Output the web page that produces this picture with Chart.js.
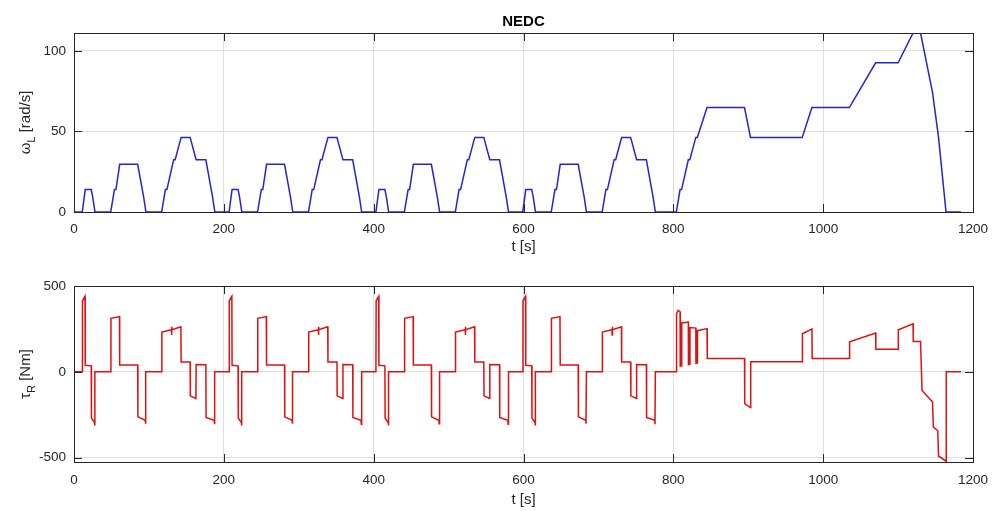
<!DOCTYPE html>
<html lang="en">
<head>
    <meta charset="UTF-8">
    <title>NEDC</title>
    <script src="https://cdn.jsdelivr.net/npm/chart.js"></script>
    <style>
        body { margin: 0; background: #fff; }
        .box { position: absolute; left: 0; width: 994px; }
    </style>
</head>
<body>
    <div class="box" style="top:0; height:258px;"><canvas id="speedChart" width="994" height="258"></canvas></div>
    <div class="box" style="top:258px; height:253px;"><canvas id="torqueChart" width="994" height="253"></canvas></div>

<script>
    // wheel speed omega_L [rad/s] vs time [s] (4 x ECE-15 + EUDC)
    const speedTime = [
        0, 11, 15, 23, 25, 28, 49, 54, 56, 61, 85, 93, 96, 117, 122, 124, 133, 135, 143, 155, 163, 176, 185, 188,
        196, 207, 211, 219, 221, 224, 245, 250, 252, 257, 281, 289, 292, 313, 318, 320, 329, 331, 339, 351, 359, 372, 381, 384,
        392, 403, 407, 415, 417, 420, 441, 446, 448, 453, 477, 485, 488, 509, 514, 516, 525, 527, 535, 547, 555, 568, 577, 580,
        588, 599, 603, 611, 613, 616, 637, 642, 644, 649, 673, 681, 684, 705, 710, 712, 721, 723, 731, 743, 751, 764, 773, 776,
        804, 809, 811, 820, 822, 830, 832, 845, 895, 903, 972, 985, 1035, 1070, 1100, 1120, 1130, 1146, 1154, 1164, 1184
    ];
    const speedVal = [
        0, 0, 13.9, 13.9, 9.3, 0, 0, 13.9, 13.9, 29.6, 29.6, 9.3, 0, 0, 13.9, 13.9, 32.4, 32.4, 46.3, 46.3, 32.4, 32.4, 9.3, 0,
        0, 0, 13.9, 13.9, 9.3, 0, 0, 13.9, 13.9, 29.6, 29.6, 9.3, 0, 0, 13.9, 13.9, 32.4, 32.4, 46.3, 46.3, 32.4, 32.4, 9.3, 0,
        0, 0, 13.9, 13.9, 9.3, 0, 0, 13.9, 13.9, 29.6, 29.6, 9.3, 0, 0, 13.9, 13.9, 32.4, 32.4, 46.3, 46.3, 32.4, 32.4, 9.3, 0,
        0, 0, 13.9, 13.9, 9.3, 0, 0, 13.9, 13.9, 29.6, 29.6, 9.3, 0, 0, 13.9, 13.9, 32.4, 32.4, 46.3, 46.3, 32.4, 32.4, 9.3, 0,
        0, 13.9, 13.9, 32.4, 32.4, 46.3, 46.3, 64.8, 64.8, 46.3, 46.3, 64.8, 64.8, 92.6, 92.6, 111.1, 111.1, 74.1, 46.3, 0, 0
    ];

    // wheel torque tau_R [Nm] vs time [s]
    const torqueTime = [
        0, 11, 11.3, 14.7, 15, 23, 23.3, 27.4, 27.7, 28, 49, 49.3, 60.7, 61, 85, 85.3, 95, 95.4, 96,
        117, 117.3, 130, 130.3, 130.6, 131, 142.7, 143, 155, 155.3, 162.7, 163, 176, 176.3, 187, 187.5, 188,
        196, 207, 207.3, 210.7, 211, 219, 219.3, 223.4, 223.7, 224, 245, 245.3, 256.7, 257, 281, 281.3, 291, 291.4, 292,
        313, 313.3, 326, 326.3, 326.6, 327, 338.7, 339, 351, 351.3, 358.7, 359, 372, 372.3, 383, 383.5, 384,
        392, 403, 403.3, 406.7, 407, 415, 415.3, 419.4, 419.7, 420, 441, 441.3, 452.7, 453, 477, 477.3, 487, 487.4, 488,
        509, 509.3, 522, 522.3, 522.6, 523, 534.7, 535, 547, 547.3, 554.7, 555, 568, 568.3, 579, 579.5, 580,
        588, 599, 599.3, 602.7, 603, 611, 611.3, 615.4, 615.7, 616, 637, 637.3, 648.7, 649, 673, 673.3, 683, 683.4, 684,
        705, 705.3, 718, 718.3, 718.6, 719, 730.7, 731, 743, 743.3, 750.7, 751, 764, 764.3, 775, 775.5, 776,
        804, 804.3, 806.5, 809, 809.2, 811, 811.2, 820, 820.2, 822, 822.2, 830, 830.2, 832, 832.2, 845, 845.3,
        895, 895.3, 903, 903.3, 972, 972.3, 985, 985.3, 1035, 1035.3, 1070, 1070.3, 1100, 1100.3, 1120, 1120.3, 1130,
        1132, 1146, 1147, 1153, 1154, 1164, 1164.3, 1184
    ];
    const torqueVal = [
        0, 0, 415, 440, 38, 35, -270, -295, -312, 0, 0, 312, 322, 40, 40, -262, -282, -302, 0,
        0, 232, 245, 215, 262, 245, 262, 58, 58, -140, -155, 43, 42, -265, -282, -305, 0,
        0, 0, 415, 440, 38, 35, -270, -295, -312, 0, 0, 312, 322, 40, 40, -262, -282, -302, 0,
        0, 232, 245, 215, 262, 245, 262, 58, 58, -140, -155, 43, 42, -265, -282, -305, 0,
        0, 0, 415, 440, 38, 35, -270, -295, -312, 0, 0, 312, 322, 40, 40, -262, -282, -302, 0,
        0, 232, 245, 215, 262, 245, 262, 58, 58, -140, -155, 43, 42, -265, -282, -305, 0,
        0, 0, 415, 440, 38, 35, -270, -295, -312, 0, 0, 312, 322, 40, 40, -262, -282, -302, 0,
        0, 232, 245, 215, 262, 245, 262, 58, 58, -140, -155, 43, 42, -265, -282, -305, 0,
        0, 340, 358, 350, 33, 35, 285, 290, 42, 45, 258, 255, 50, 52, 240, 252, 78,
        78, -185, -208, 59, 59, 222, 250, 78, 78, 175, 226, 131, 131, 245, 280, 177, 177,
        -108, -176, -320, -343, -490, -520, 0, 0
    ];

    // tick labels
    const timeTicks = [0, 200, 400, 600, 800, 1000, 1200];
    const speedTicks = [0, 50, 100];
    const torqueTicks = [-500, 0, 500];

    const FONT = "'Liberation Sans', Arial, sans-serif";
    const TXT = '#262626';

    function toPoints(xs, ys) {
        return xs.map((x, i) => ({ x: x, y: ys[i] }));
    }

    // full box with inward tick marks on all 4 sides (matlab style)
    const boxPlugin = {
        id: 'boxPlugin',
        afterDraw(chart) {
            const { ctx, chartArea: a, scales } = chart;
            ctx.save();
            ctx.strokeStyle = TXT;
            ctx.lineWidth = 1;
            ctx.strokeRect(Math.round(a.left) + 0.5, Math.round(a.top) + 0.5,
                Math.round(a.right - a.left), Math.round(a.bottom - a.top));
            const len = 8;
            ctx.beginPath();
            scales.x.ticks.forEach(t => {
                const px = Math.round(scales.x.getPixelForValue(t.value)) + 0.5;
                ctx.moveTo(px, a.top); ctx.lineTo(px, a.top + len);
                ctx.moveTo(px, a.bottom); ctx.lineTo(px, a.bottom - len);
            });
            scales.y.ticks.forEach(t => {
                const py = Math.round(scales.y.getPixelForValue(t.value)) + 0.5;
                ctx.moveTo(a.left, py); ctx.lineTo(a.left + len, py);
                ctx.moveTo(a.right, py); ctx.lineTo(a.right - len, py);
            });
            ctx.stroke();
            ctx.restore();
        }
    };

    // rotated y title with a subscript
    function yTitlePlugin(main, sub, unit) {
        return {
            id: 'yTitle',
            afterDraw(chart) {
                const { ctx, chartArea: a } = chart;
                ctx.save();
                ctx.translate(26, (a.top + a.bottom) / 2);
                ctx.rotate(-Math.PI / 2);
                ctx.fillStyle = TXT;
                ctx.textBaseline = 'middle';
                ctx.textAlign = 'left';
                const big = '15px ' + FONT, small = '11px ' + FONT;
                ctx.font = big;
                const w1 = ctx.measureText(main).width;
                const w3 = ctx.measureText(' ' + unit).width;
                ctx.font = small;
                const w2 = ctx.measureText(sub).width;
                let x = -(w1 + w2 + w3) / 2;
                ctx.font = big;
                ctx.fillText(main, x, 0);
                ctx.font = small;
                ctx.fillText(sub, x + w1, 6);
                ctx.font = big;
                ctx.fillText(' ' + unit, x + w1 + w2, 0);
                ctx.restore();
            }
        };
    }

    function makeChart(id, xs, ys, color, yMin, yMax, yTicks, xLabelPad, xHeight, padTop, titleOn, yTitle) {
        return new Chart(document.getElementById(id), {
            type: 'line',
            data: {
                datasets: [{
                    data: toPoints(xs, ys),
                    borderColor: color,
                    borderWidth: 1.5,
                    pointRadius: 0,
                    tension: 0,
                    fill: false
                }]
            },
            options: {
                responsive: false,
                animation: false,
                layout: { padding: { left: 0, right: 21, top: padTop, bottom: 0 } },
                plugins: {
                    legend: { display: false },
                    tooltip: { enabled: false },
                    title: {
                        display: titleOn,
                        fullSize: false,
                        text: 'NEDC',
                        color: '#000',
                        font: { family: FONT, size: 15, weight: 'bold' },
                        padding: { top: 12.5, bottom: 2.5 }
                    }
                },
                scales: {
                    x: {
                        type: 'linear',
                        min: 0,
                        max: 1200,
                        afterBuildTicks: s => { s.ticks = timeTicks.map(v => ({ value: v })); },
                        afterFit: s => { s.height = xHeight; s.paddingLeft = 0; s.paddingRight = 0; },
                        grid: { color: '#dedede', drawTicks: false },
                        border: { display: false },
                        ticks: {
                            color: TXT, padding: xLabelPad, maxRotation: 0,
                            callback: v => String(v),
                            font: { family: FONT, size: 13.5 }
                        },
                        title: { display: true, text: 't [s]', color: TXT, padding: { top: 0, bottom: 2 }, font: { family: FONT, size: 15 } }
                    },
                    y: {
                        min: yMin,
                        max: yMax,
                        afterBuildTicks: s => { s.ticks = yTicks.map(v => ({ value: v })); },
                        afterFit: s => { s.width = 74; s.paddingTop = 0; s.paddingBottom = 0; },
                        grid: { color: '#dedede', drawTicks: false },
                        border: { display: false },
                        ticks: {
                            color: TXT, padding: 8,
                            callback: v => String(v),
                            font: { family: FONT, size: 13.5 }
                        }
                    }
                }
            },
            plugins: [boxPlugin, yTitlePlugin(yTitle[0], yTitle[1], yTitle[2])]
        });
    }

    makeChart('speedChart', speedTime, speedVal, '#2424d4', 0, 111.1, speedTicks,
        9, 46, 0, true, ['\u03c9', 'L', '[rad/s]']);

    makeChart('torqueChart', torqueTime, torqueVal, '#e01010', -525, 500, torqueTicks,
        10, 49, 28, false, ['\u03c4', 'R', '[Nm]']);
</script>
</body>
</html>
